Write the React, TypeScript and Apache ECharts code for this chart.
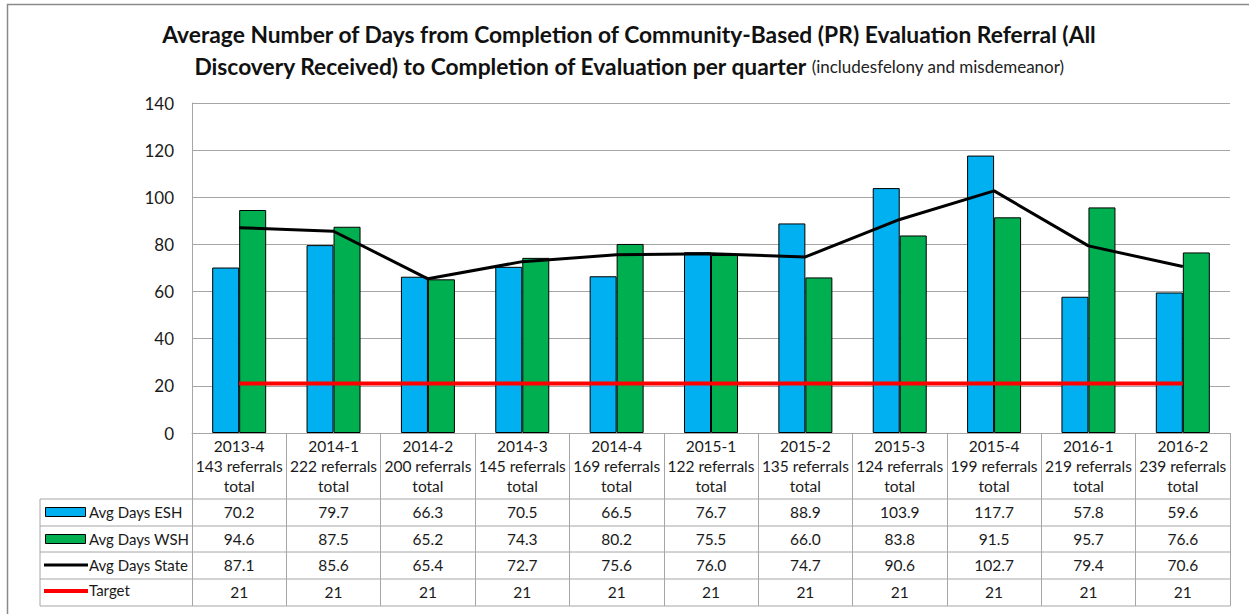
import React, { useEffect, useRef } from "react";
import * as echarts from "echarts";

const quarters = ["2013-4", "2014-1", "2014-2", "2014-3", "2014-4", "2015-1", "2015-2", "2015-3", "2015-4", "2016-1", "2016-2"];
const referrals = [143, 222, 200, 145, 169, 122, 135, 124, 199, 219, 239];
const eshDays = [70.2, 79.7, 66.3, 70.5, 66.5, 76.7, 88.9, 103.9, 117.7, 57.8, 59.6];
const wshDays = [94.6, 87.5, 65.2, 74.3, 80.2, 75.5, 66.0, 83.8, 91.5, 95.7, 76.6];
const stateDays = [87.1, 85.6, 65.4, 72.7, 75.6, 76.0, 74.7, 90.6, 102.7, 79.4, 70.6];
const targetDays = [21, 21, 21, 21, 21, 21, 21, 21, 21, 21, 21];
const yTicks = { min: 0, max: 140, interval: 20 };

const FONT = 'Lato, "Open Sans", sans-serif';
const GRID_COLOR = "#a6a6a6";
const TEXT = "#1a1a1a";
const TABLE_FS = 15.5;

export default function App() {
  const ref = useRef<HTMLDivElement>(null);
  useEffect(() => {
    if (!ref.current) return;
    const chart = echarts.init(ref.current, undefined, { renderer: "svg" });
    const gridLeft = 192;
    const gridRight = 1230;
    const axisY = 433;
    const rowLines = [499, 526, 552, 579, 606];
    const rowCenters = [512, 539, 565, 592];
    const legendLeft = 40;

    const valueAxis = (vals: (number | string)[], idx: number, fmt: (v: number) => string) => ({
      type: "category",
      gridIndex: 0,
      position: "bottom",
      offset: rowCenters[idx] - axisY,
      data: vals.map((v) => fmt(v as number)),
      axisLine: { show: false },
      axisTick: { show: false },
      axisLabel: {
        interval: 0,
        margin: 0,
        verticalAlign: "middle",
        fontFamily: FONT,
        fontSize: TABLE_FS,
        color: TEXT,
      },
    });

    const graphics: any[] = [
      {
        type: "rect",
        shape: { x: 7.5, y: 4.5, width: 1400, height: 800 },
        style: { fill: "none", stroke: "#8a8a8a", lineWidth: 1.5 },
        silent: true,
      },
      {
        type: "text",
        x: 629,
        y: 18,
        style: {
          text:
            "{b|Average Number of Days from Completion of Community-Based (PR) Evaluation Referral (All}\n{b|Discovery Received) to Completion of Evaluation per quarter}{s| (includesfelony and misdemeanor)}",
          align: "center",
          verticalAlign: "top",
          rich: {
            b: { fontFamily: FONT, fontWeight: "bold", fontSize: 22.8, lineHeight: 32, fill: "#111" },
            s: { fontFamily: FONT, fontSize: 17, lineHeight: 32, fill: "#222" },
          },
        },
      },
      ...rowLines.map((y) => ({
        type: "line",
        shape: { x1: legendLeft, y1: y, x2: gridRight, y2: y },
        style: { stroke: GRID_COLOR, lineWidth: 1 },
        silent: true,
      })),
      {
        type: "line",
        shape: { x1: legendLeft, y1: rowLines[0], x2: legendLeft, y2: rowLines[rowLines.length - 1] },
        style: { stroke: GRID_COLOR, lineWidth: 1 },
        silent: true,
      },
      {
        type: "rect",
        shape: { x: 45.5, y: rowCenters[0] - 4.5, width: 40, height: 9 },
        style: { fill: "#00B0F0", stroke: "#000", lineWidth: 1 },
      },
      {
        type: "rect",
        shape: { x: 45.5, y: rowCenters[1] - 4.5, width: 40, height: 9 },
        style: { fill: "#00B050", stroke: "#000", lineWidth: 1 },
      },
      {
        type: "line",
        shape: { x1: 44, y1: rowCenters[2], x2: 88, y2: rowCenters[2] },
        style: { stroke: "#000", lineWidth: 3 },
      },
      {
        type: "line",
        shape: { x1: 44, y1: rowCenters[3] - 1, x2: 88, y2: rowCenters[3] - 1 },
        style: { stroke: "#FF0000", lineWidth: 4 },
      },
      ...["Avg Days ESH", "Avg Days WSH", "Avg Days State", "Target"].map((t, i) => ({
        type: "text",
        x: 89,
        y: rowCenters[i] - (i === 3 ? 2 : 0),
        style: { text: t, fontFamily: FONT, fontSize: 15, fill: TEXT, verticalAlign: "middle", align: "left" },
      })),
    ];

    chart.setOption({
      animation: false,
      grid: { left: gridLeft, right: 1249 - gridRight, top: 103, bottom: 614 - axisY, containLabel: false },
      xAxis: [
        {
          type: "category",
          data: quarters.map((q, i) => `${q}\n${referrals[i]} referrals\ntotal`),
          axisLine: { show: true, lineStyle: { color: GRID_COLOR, width: 1 } },
          axisTick: { show: true, interval: 0, length: 606 - axisY, lineStyle: { color: GRID_COLOR, width: 1 } },
          axisLabel: {
            interval: 0,
            margin: 3,
            verticalAlign: "top",
            lineHeight: 20,
            fontFamily: FONT,
            fontSize: TABLE_FS,
            color: TEXT,
          },
        },
        valueAxis(eshDays, 0, (v) => v.toFixed(1)),
        valueAxis(wshDays, 1, (v) => v.toFixed(1)),
        valueAxis(stateDays, 2, (v) => v.toFixed(1)),
        valueAxis(targetDays, 3, (v) => String(v)),
      ],
      yAxis: {
        type: "value",
        min: yTicks.min,
        max: yTicks.max,
        interval: yTicks.interval,
        axisLine: { show: true, lineStyle: { color: GRID_COLOR, width: 1 } },
        axisTick: { show: false },
        splitLine: { show: true, lineStyle: { color: GRID_COLOR, width: 1 } },
        axisLabel: { margin: 18, fontFamily: FONT, fontSize: 17, color: TEXT },
      },
      series: [
        {
          name: "Avg Days ESH",
          type: "bar",
          data: eshDays,
          barWidth: 27,
          barGap: "0%",
          itemStyle: { color: "#00B0F0", borderColor: "#000", borderWidth: 1 },
        },
        {
          name: "Avg Days WSH",
          type: "bar",
          data: wshDays,
          barWidth: 27,
          barGap: "0%",
          itemStyle: { color: "#00B050", borderColor: "#000", borderWidth: 1 },
        },
        {
          name: "Avg Days State",
          type: "line",
          data: stateDays,
          showSymbol: false,
          symbol: "none",
          lineStyle: { color: "#000", width: 3 },
          z: 5,
        },
        {
          name: "Target",
          type: "line",
          data: targetDays,
          showSymbol: false,
          symbol: "none",
          lineStyle: { color: "#FF0000", width: 4 },
          z: 5,
        },
      ],
      graphic: graphics,
    });
    return () => chart.dispose();
  }, []);
  return <div ref={ref} style={{ position: "absolute", left: 0, top: 0, width: 1249, height: 614 }} />;
}
